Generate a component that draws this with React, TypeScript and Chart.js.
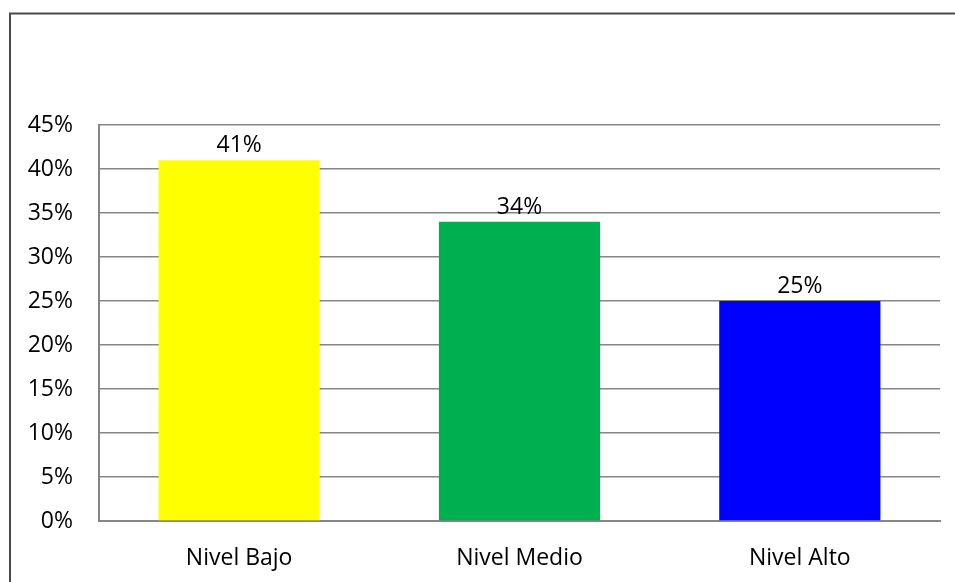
import React, { useEffect, useRef } from "react";
import { Chart, registerables } from "chart.js";

Chart.register(...registerables);

const categories = ["Nivel Bajo", "Nivel Medio", "Nivel Alto"];
const values = [41, 34, 25];
const barColors = ["#FFFF00", "#00B050", "#0000FF"];
const yMax = 45;
const yStep = 5;

const FONT = "'Open Sans', 'Noto Sans', sans-serif";

const outerBorder = {
  id: "outerBorder",
  beforeDraw(chart: any) {
    const ctx = chart.ctx;
    ctx.save();
    ctx.fillStyle = "#ffffff";
    ctx.fillRect(0, 0, chart.width, chart.height);
    ctx.strokeStyle = "#4a4a4a";
    ctx.lineWidth = 2;
    ctx.strokeRect(10, 13.5, 2000, 2000);
    ctx.restore();
  },
};

const dataLabels = {
  id: "dataLabels",
  afterDatasetsDraw(chart: any) {
    const ctx = chart.ctx;
    const meta = chart.getDatasetMeta(0);
    ctx.save();
    ctx.font = `23px ${FONT}`;
    ctx.fillStyle = "#000000";
    ctx.textAlign = "center";
    ctx.textBaseline = "alphabetic";
    meta.data.forEach((bar: any, i: number) => {
      ctx.fillText(`${values[i]}%`, bar.x, bar.y - 8);
    });
    ctx.restore();
  },
};

export default function App() {
  const ref = useRef<HTMLCanvasElement | null>(null);

  useEffect(() => {
    if (!ref.current) return;
    const chart = new Chart(ref.current, {
      type: "bar",
      data: {
        labels: categories,
        datasets: [
          {
            data: values,
            backgroundColor: barColors,
            borderWidth: 0,
            categoryPercentage: 1,
            barPercentage: 0.575,
          },
        ],
      },
      options: {
        animation: false,
        responsive: false,
        layout: { padding: { left: 0, right: 15, top: 125, bottom: 0 } },
        plugins: {
          legend: { display: false },
          tooltip: { enabled: false },
          title: { display: false },
        },
        scales: {
          x: {
            grid: { display: false, drawTicks: false },
            border: { display: true, color: "#868686", width: 2 },
            ticks: {
              color: "#000000",
              font: { family: FONT, size: 23 },
              padding: 24,
            },
            afterFit(scale: any) {
              scale.height = 61;
            },
          },
          y: {
            min: 0,
            max: yMax,
            grid: { color: "#868686", lineWidth: 1.5, drawTicks: false },
            border: { display: true, color: "#868686", width: 2 },
            ticks: {
              stepSize: yStep,
              color: "#000000",
              font: { family: FONT, size: 23 },
              padding: 26,
              callback: (v: any) => `${v}%`,
            },
            afterFit(scale: any) {
              scale.width = 99;
            },
          },
        },
      },
      plugins: [outerBorder, dataLabels],
    });
    return () => chart.destroy();
  }, []);

  return (
    <div style={{ position: "fixed", left: 0, top: 0, width: 955, height: 582, background: "#fff" }}>
      <canvas ref={ref} width={955} height={582} style={{ display: "block" }} />
    </div>
  );
}
